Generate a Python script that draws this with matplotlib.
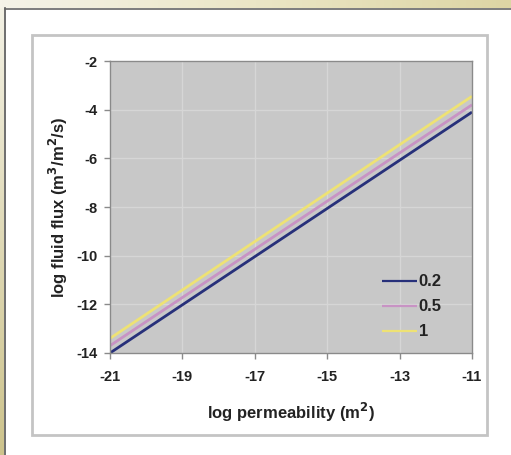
import numpy as np
import matplotlib
matplotlib.use('Agg')
import matplotlib.pyplot as plt
from matplotlib.patches import Rectangle
from matplotlib.colors import LinearSegmentedColormap

# data
series_names = ['0.2', '0.5', '1']
log_perm = [-21, -11]
flux_02 = [-14.0, -4.1]
flux_05 = [-13.7, -3.8]
flux_1 = [-13.4, -3.45]
line_colors = ['#27307a', '#c893c4', '#eee274']

W, H = 511, 455
plt.rcParams['font.family'] = ['Liberation Sans', 'DejaVu Sans']
plt.rcParams['axes.unicode_minus'] = False
fig = plt.figure(figsize=(W / 100, H / 100), dpi=100)
fig.patch.set_facecolor('white')

def fx(px):
    return px / W

def fy(py):
    return 1 - py / H

# beige strip on top, tan strip on the left
top = fig.add_axes([0, fy(8), 1, 8 / H])
grad = np.linspace(0, 1, 256).reshape(1, -1)
top.imshow(grad, aspect='auto', extent=[0, 1, 0, 1],
           cmap=LinearSegmentedColormap.from_list('b', ['#f5f3e8', '#ebe6c6', '#ddd5a4']))
top.axis('off')
left = fig.add_axes([0, 0, fx(4), fy(8)])
vgrad = np.linspace(0, 1, 256).reshape(-1, 1)
left.imshow(vgrad, aspect='auto', extent=[0, 1, 0, 1],
            cmap=LinearSegmentedColormap.from_list('t', ['#f3f1e4', '#cdc38c']))
left.axis('off')

# dark border of the white panel
fig.add_artist(plt.Line2D([fx(4.5), fx(4.5)], [0, fy(8)], color='#555555', lw=1.2))
fig.add_artist(plt.Line2D([fx(4.5), 1], [fy(8.5), fy(8.5)], color='#666666', lw=1.2))

# chart box (behind the axes)
fig.add_artist(Rectangle((fx(32), fy(435)), fx(487) - fx(32), fy(35) - fy(435),
                         facecolor='white', edgecolor='#c4c4c4', lw=2.0,
                         transform=fig.transFigure, zorder=-5))

ax = fig.add_axes([fx(110), fy(353), fx(472) - fx(110), fy(61) - fy(353)])
ax.set_facecolor('#c8c8c8')
for ys, name, c in zip([flux_02, flux_05, flux_1], series_names, line_colors):
    ax.plot(log_perm, ys, color=c, lw=2.0, label=name, solid_capstyle='butt')

ax.set_xlim(-21, -11)
ax.set_ylim(-14, -2)
ax.set_xticks(range(-21, -10, 2))
ax.set_yticks(range(-14, -1, 2))
ax.grid(True, color='#d6d6d6', lw=1.0)
ax.set_axisbelow(True)
for s in ax.spines.values():
    s.set_color('#8a8a8a')
    s.set_linewidth(1.0)
ax.tick_params(direction='out', length=4, width=1, color='#8a8a8a',
               labelsize=10.5, labelcolor='#222222', pad=5)
ax.tick_params(axis='x', pad=8)
for lab in ax.get_xticklabels() + ax.get_yticklabels():
    lab.set_fontweight('bold')

ax.set_xlabel('log permeability (m$^\\mathbf{2}$)', fontsize=12, fontweight='bold',
              color='#222222')
ax.xaxis.set_label_coords(0.5, -0.165)
ax.set_ylabel('log fluid flux (m$^\\mathbf{3}$/m$^\\mathbf{2}$/s)', fontsize=12,
              fontweight='bold', color='#222222')
ax.yaxis.set_label_coords(-0.11, 0.5)

leg = ax.legend(loc='center left', bbox_to_anchor=(0.751, 0.158), frameon=False,
                fontsize=12, handlelength=2.1, handletextpad=0.1, labelspacing=0.6,
                borderpad=0, borderaxespad=0)
for t in leg.get_texts():
    t.set_fontweight('bold')
    t.set_color('#222222')
for h in leg.get_lines():
    h.set_linewidth(1.6)

fig.savefig('out.png', dpi=100)
